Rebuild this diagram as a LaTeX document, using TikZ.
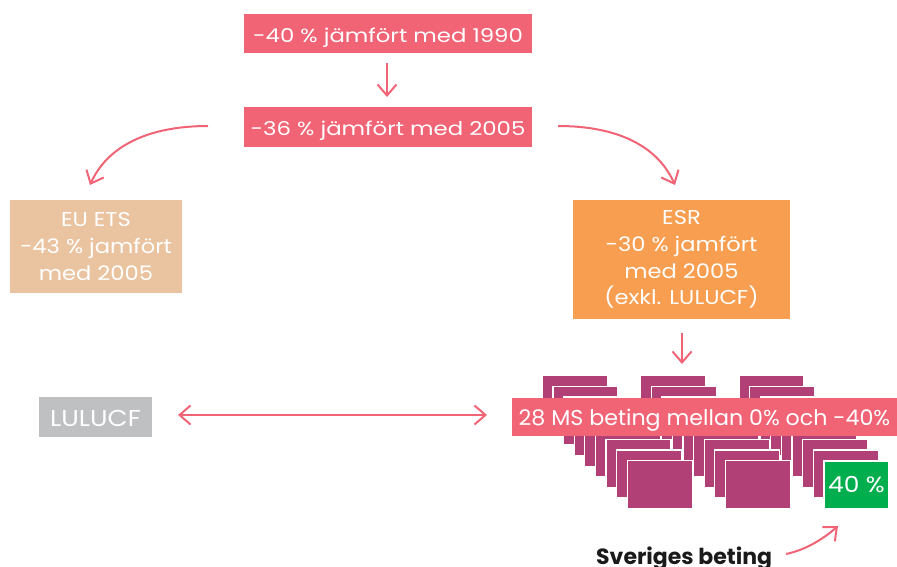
\documentclass[tikz,border=0pt]{standalone}
\usepackage{fontspec}
\setmainfont{Poppins}
\newfontfamily\wideA{Poppins}[FakeStretch=1.2]
\newfontfamily\wideB{Poppins}[FakeStretch=1.13]
\newfontfamily\wideC{Poppins}[FakeStretch=1.03]
\usetikzlibrary{arrows.meta}
\definecolor{rd}{RGB}{240,100,118}
\definecolor{tan}{RGB}{234,196,160}
\definecolor{esr}{RGB}{247,158,80}
\definecolor{gry}{RGB}{191,192,194}
\definecolor{mag}{RGB}{176,64,118}
\definecolor{grn}{RGB}{0,174,77}
\definecolor{ink}{RGB}{26,26,26}
\begin{document}
\begin{tikzpicture}[x=1pt,y=-1pt,
  box/.style={inner sep=0pt, text=white, align=center},
  ms/.style={fill=mag, draw=white, line width=1.2pt},
  arr/.style={draw=rd, line width=2pt, -{Straight Barb[length=11pt,width=19pt]}},
  darr/.style={draw=rd, line width=2pt, {Straight Barb[length=11pt,width=19pt]}-{Straight Barb[length=11pt,width=19pt]}}
]
\useasboundingbox (0,0) rectangle (897,567);

% top boxes
\node[box, fill=rd, minimum width=288pt, minimum height=39pt, text height=17.5pt, text depth=0pt,
  font=\wideA\fontsize{19}{19}\selectfont] (b1) at (388,33.5) {-40 \% jämfört med 1990};
\node[box, fill=rd, minimum width=288pt, minimum height=40pt, text height=17pt, text depth=0pt,
  font=\wideA\fontsize{19}{19}\selectfont] (b2) at (388,127) {-36 \% jämfört med 2005};

% EU ETS and ESR
\node[box, fill=tan, minimum width=172pt, minimum height=93pt,
  font=\wideB\fontsize{20}{26.7}\selectfont] (ets) at (96,246.5) {EU ETS\\-43 \% jamfört\\med 2005};
\node[box, fill=esr, minimum width=217pt, minimum height=119pt,
  font=\wideB\fontsize{20}{26.7}\selectfont] (esr) at (681.5,259.5) {ESR\\-30 \% jamfört\\med 2005\\(exkl. LULUCF)};

% magenta stacks (back group first)
\foreach \gx in {196.6,98.3,0}{
  \foreach \k in {0,...,8}{
    \path[ms] ({542.3+\gx+10.6*\k},{375.7+10.6*\k}) rectangle ++(65,48);
  }
}
\node[box, fill=grn, draw=white, line width=1.2pt, minimum width=65pt, minimum height=48pt,
  text height=15pt, text depth=0pt, font=\wideB\fontsize{22}{22}\selectfont] (se) at (856.5,485) {40 \%};

% band and LULUCF
\node[box, fill=rd, minimum width=385pt, minimum height=38.5pt, text height=16.5pt, text depth=0pt,
  font=\wideC\fontsize{21.5}{21.5}\selectfont] (ms) at (704.5,416.75) {28 MS beting mellan 0\% och -40\%};
\node[box, fill=gry, minimum width=113pt, minimum height=40pt, text height=18pt, text depth=0pt,
  font=\wideB\fontsize{23}{23}\selectfont] (lu) at (95.5,417) {LULUCF};

% Sveriges beting
\node[anchor=base west, inner sep=0pt, text=ink, font=\bfseries\fontsize{22}{22}\selectfont]
  (sv) at (596,564) {Sveriges beting};

% connector endpoints
\coordinate (a1s) at (387,63);   \coordinate (a1e) at (387,97);
\coordinate (l1s) at (208,126);  \coordinate (l1e) at (90,185);
\coordinate (r1s) at (558,126);  \coordinate (r1e) at (675,185);
\coordinate (e1s) at (682,333);  \coordinate (e1e) at (682,364);
\coordinate (d1s) at (178,415);  \coordinate (d1e) at (487,415);
\coordinate (s1s) at (786,554);  \coordinate (s1e) at (838,526);

\draw[arr] (a1s) -- (a1e);
\draw[arr] (l1s) .. controls (150,126) and (108,145) .. (l1e);
\draw[arr] (r1s) .. controls (616,126) and (657,145) .. (r1e);
\draw[arr] (e1s) -- (e1e);
\draw[darr] (d1s) -- (d1e);
\draw[arr] (s1s) .. controls (805,550) and (822,540) .. (s1e);
\end{tikzpicture}
\end{document}
